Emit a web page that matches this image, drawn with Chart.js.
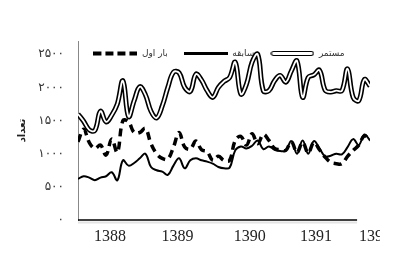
<!DOCTYPE html>
<html>
<head>
<meta charset="utf-8">
<script src="https://cdn.jsdelivr.net/npm/chart.js@4/dist/chart.umd.min.js"></script>
<style>
    html, body { margin: 0; padding: 0; background: #fff; }
    #trend_chart { width: 380px; height: 261px; overflow: hidden; }
</style>
</head>
<body>
<div id="trend_chart"><canvas id="TrendChart" width="380" height="261"></canvas></div>
<script>
// monthly counts
const first_time = [
    1180, 1370, 1170, 1080, 1130, 980, 1220, 1020, 1500, 1480,
    1320, 1320, 1380, 1150, 1000, 930, 920, 1100, 1320, 1100,
    1070, 1190, 1060, 1030, 900, 960, 900, 900, 1200, 1260,
    1130, 1300, 1150, 1290, 1200, 1080, 1060, 1050, 1180, 1020,
    1170, 1010, 1170, 1060, 950, 870, 850, 850, 960, 1050,
    1130, 1270, 1200
];
const with_record = [
    620, 660, 640, 600, 640, 660, 720, 600, 900, 820,
    860, 930, 1000, 800, 750, 730, 680, 820, 930, 780,
    900, 930, 900, 880, 850, 800, 780, 790, 1050, 1110,
    1080, 1120, 1200, 1070, 1110, 1060, 1040, 1050, 1190, 1000,
    1200, 1000, 1190, 1080, 960, 970, 1000, 990, 1100, 1220,
    1130, 1290, 1200
];
const continuous = [
    1600, 1490, 1360, 1350, 1640, 1480, 1580, 1750, 2100, 1560,
    1800, 2010, 1890, 1640, 1540, 1720, 2000, 2230, 2220, 2000,
    1940, 2200, 2110, 1950, 1850, 2000, 2090, 2150, 2380, 1900,
    2050, 2380, 2500, 1950, 1950, 2100, 2180, 2080, 2250, 2400,
    1850, 2150, 2190, 2260, 1960, 1930, 1950, 1950, 2280, 1850,
    1800, 2120, 2020
];

const year_ticks = [5.7, 17.7, 30.6, 42.4, 52.9];
const year_labels = ['1388', '1389', '1390', '1391', '1392'];
const count_ticks = [0, 500, 1000, 1500, 2000, 2500];
const series_names = ['بار اول', 'سابقه', 'مستمر'];
const y_title = 'تعداد';
const axis_end = 49.7;


function to_persian_digits(n){
    const digits = '۰۱۲۳۴۵۶۷۸۹';
    return String(n).replace(/[0-9]/g, d => digits[d]);
}

function to_points(values){
    return values.map((v, i) => ({x: i, y: v}));
}

// small swatches for the legend: dashed, plain and double line
function legend_swatch(kind){
    const c = document.createElement('canvas');
    c.width = 44;
    c.height = 7;
    const g = c.getContext('2d');
    g.strokeStyle = '#000';
    if (kind == 'dashed'){
        g.lineWidth = 4;
        g.setLineDash([8, 4]);
        g.beginPath(); g.moveTo(0, 3.5); g.lineTo(44, 3.5); g.stroke();
    } else if (kind == 'plain'){
        g.lineWidth = 3;
        g.beginPath(); g.moveTo(0, 3.5); g.lineTo(44, 3.5); g.stroke();
    } else {
        g.lineWidth = 1.2;
        g.beginPath();
        g.roundRect(1, 1.5, 42, 4, 2);
        g.stroke();
    }
    return c;
}


// x axis line stops before the data does, with a faint shadow under it
const axis_plugin = {
    id: 'axis_plugin',
    afterLayout(chart){
        const legend = chart.legend;
        legend.left += 34;
        legend.right += 34;
        legend.top += 27;
        legend.bottom += 27;
    },
    beforeDatasetsDraw(chart){
        const ctx = chart.ctx;
        const x_scale = chart.scales.x;
        const x0 = chart.chartArea.left;
        const x1 = x_scale.getPixelForValue(axis_end);
        const y0 = chart.chartArea.bottom;
        ctx.save();
        ctx.strokeStyle = '#e4e4e4';
        ctx.lineWidth = 2;
        ctx.beginPath();
        ctx.moveTo(x0, y0 + 2.5);
        ctx.lineTo(x1, y0 + 2.5);
        ctx.stroke();
        ctx.strokeStyle = '#000';
        ctx.lineWidth = 1.3;
        ctx.beginPath();
        ctx.moveTo(x0, y0);
        ctx.lineTo(x1, y0);
        ctx.stroke();
        ctx.restore();
    }
};

const swatches = [legend_swatch('dashed'), legend_swatch('plain'), legend_swatch('double')];

const ctx = document.getElementById('TrendChart').getContext('2d');

const chart = new Chart(ctx, {
    type: 'line',
    data: {
        datasets: [
            {
                label: series_names[0],
                data: to_points(first_time),
                borderColor: '#000',
                borderWidth: 3.5,
                borderDash: [8, 5],
                tension: 0.4,
                order: 1
            },
            {
                label: series_names[1],
                data: to_points(with_record),
                borderColor: '#000',
                borderWidth: 2,
                tension: 0.4,
                order: 1
            },
            {
                label: series_names[2],
                data: to_points(continuous),
                borderColor: '#000',
                borderWidth: 5,
                tension: 0.4,
                order: 1
            },
            {
                label: 'inner',
                data: to_points(continuous),
                borderColor: '#fff',
                borderWidth: 1.8,
                tension: 0.4,
                order: 0
            }
        ]
    },
    options: {
        responsive: false,
        animation: false,
        layout: {
            padding: {top: 6, right: 10, left: 0, bottom: 0}
        },
        elements: {
            point: {radius: 0}
        },
        plugins: {
            tooltip: {enabled: false},
            legend: {
                position: 'top',
                labels: {
                    usePointStyle: true,
                    pointStyleWidth: 44,
                    boxHeight: 7,
                    padding: 16,
                    color: '#333',
                    font: {family: 'DejaVu Sans', size: 9},
                    generateLabels: function(chart){
                        const items = Chart.defaults.plugins.legend.labels.generateLabels(chart);
                        const kept = items.filter(item => item.datasetIndex < 3);
                        kept.forEach((item, i) => { item.pointStyle = swatches[i]; });
                        return kept;
                    }
                }
            }
        },
        scales: {
            x: {
                type: 'linear',
                min: 0,
                max: first_time.length - 1,
                border: {display: false},
                grid: {display: false, drawTicks: false},
                afterBuildTicks: function(scale){
                    scale.ticks = year_ticks.map(v => ({value: v}));
                },
                afterFit: function(scale){
                    scale.height = 41;
                    scale.paddingLeft = 0;
                    scale.paddingRight = 0;
                },
                ticks: {
                    autoSkip: false,
                    maxRotation: 0,
                    padding: 7,
                    color: '#222',
                    font: {family: 'Liberation Serif', size: 16},
                    callback: (value, index) => year_labels[index]
                }
            },
            y: {
                min: 0,
                max: 2700,
                border: {display: true, color: '#888', width: 1},
                grid: {display: false, drawTicks: false},
                afterBuildTicks: function(scale){
                    scale.ticks = count_ticks.map(v => ({value: v}));
                },
                afterFit: function(scale){
                    scale.width = 78;
                    scale.paddingTop = 0;
                    scale.paddingBottom = 0;
                },
                ticks: {
                    padding: 14,
                    color: '#333',
                    font: {family: 'DejaVu Sans', size: 12},
                    callback: value => to_persian_digits(value)
                },
                title: {
                    display: true,
                    text: y_title,
                    color: '#222',
                    padding: 16,
                    font: {family: 'DejaVu Sans', size: 10, weight: 'bold'}
                }
            }
        }
    },
    plugins: [axis_plugin]
});
</script>
</body>
</html>
